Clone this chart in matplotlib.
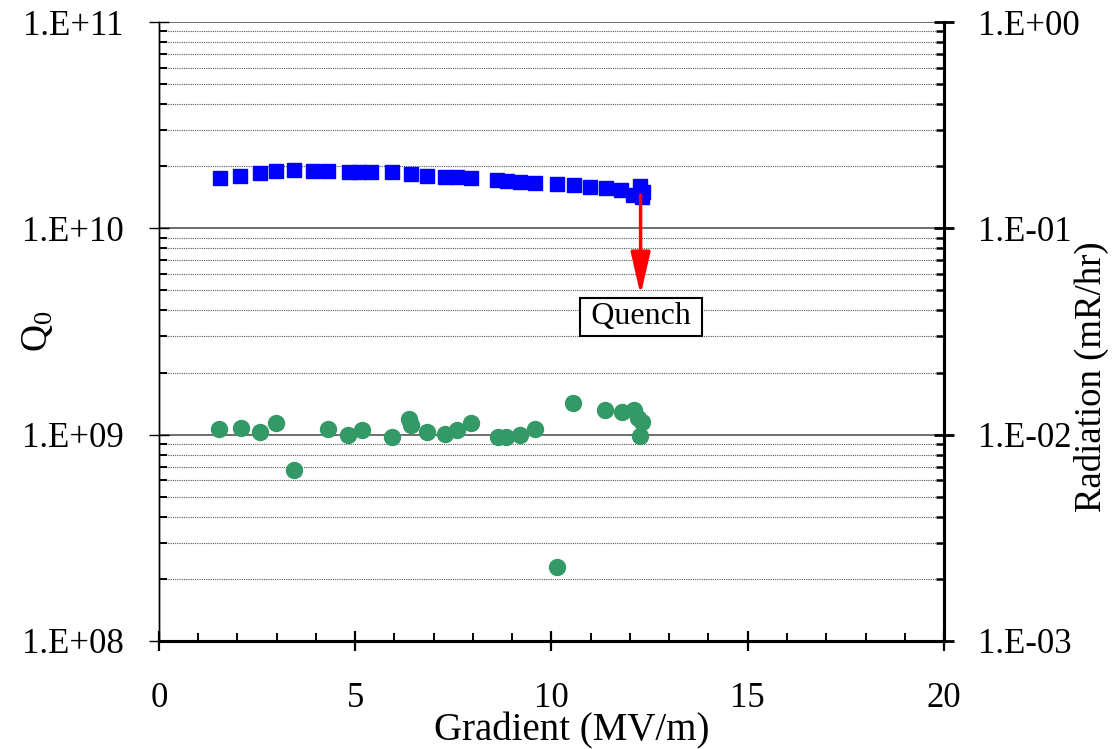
import numpy as np
import matplotlib
matplotlib.use('Agg')
import matplotlib.pyplot as plt
from matplotlib.ticker import LogLocator, MultipleLocator, FuncFormatter, NullFormatter

plt.rcParams['font.family'] = ['Liberation Serif', 'DejaVu Serif']
plt.rcParams['mathtext.fontset'] = 'custom'
plt.rcParams['mathtext.rm'] = 'Liberation Serif'
plt.rcParams['mathtext.it'] = 'Liberation Serif:italic'

## DATA
# Q0 vs gradient (blue squares, left axis)
q0_gradient = [1.55, 2.07, 2.58, 2.99, 3.45, 3.92, 4.31, 4.83, 5.1, 5.4,
               5.94, 6.42, 6.84, 7.29, 7.6, 7.94, 8.62, 8.86, 9.20, 9.57,
               10.15, 10.58, 10.97, 11.38, 11.78, 12.08, 12.25, 12.30, 12.34]
q0_values = [1.75e10, 1.80e10, 1.86e10, 1.90e10, 1.91e10, 1.90e10, 1.89e10, 1.88e10, 1.88e10, 1.88e10,
             1.88e10, 1.83e10, 1.80e10, 1.78e10, 1.77e10, 1.75e10, 1.71e10, 1.70e10, 1.68e10, 1.66e10,
             1.64e10, 1.62e10, 1.58e10, 1.56e10, 1.53e10, 1.45e10, 1.60e10, 1.42e10, 1.50e10]

# radiation vs gradient (green circles, right axis)
rad_gradient = [1.54, 2.08, 2.58, 2.98, 3.45, 4.31, 4.82, 5.17, 5.93, 6.37,
                6.42, 6.84, 7.28, 7.60, 7.94, 8.64, 8.84, 9.20, 9.58, 10.15,
                10.56, 11.37, 11.79, 12.09, 12.20, 12.30, 12.26]
rad_values = [0.01069, 0.01076, 0.01026, 0.01135, 0.00676, 0.0107, 0.00993, 0.01052, 0.00973, 0.01187,
              0.01110, 0.01033, 0.01007, 0.01052, 0.01135, 0.00977, 0.00970, 0.01000, 0.01061, 0.00229,
              0.01422, 0.01310, 0.01290, 0.01320, 0.01210, 0.01150, 0.00985]

quench_x = 12.27
quench_from = 1.45e10
quench_to = 4.75e9
quench_label_y = 3.72e9


def e_format(v, pos):
    exp = int(round(np.log10(v)))
    return '1.E%+03d' % exp


fig = plt.figure(figsize=(11.14, 7.49), dpi=100)
ax = fig.add_axes([0.1427, 0.1442, 0.7047, 0.8264])
ax2 = ax.twinx()

ax.set_xlim(0, 20)
ax.set_yscale('log')
ax.set_ylim(1e8, 1e11)
ax2.set_yscale('log')
ax2.set_ylim(1e-3, 1e0)

# grid: dotted minor lines, solid major lines
ax.yaxis.set_major_locator(LogLocator(base=10, numticks=10))
ax.yaxis.set_minor_locator(LogLocator(base=10, subs=np.arange(2, 10), numticks=20))
ax.yaxis.set_major_formatter(FuncFormatter(e_format))
ax.yaxis.set_minor_formatter(NullFormatter())
ax.grid(True, which='minor', axis='y', color='#555555', linestyle=(0, (1, 1)), linewidth=0.8)
ax.grid(True, which='major', axis='y', color='#555555', linestyle='-', linewidth=1.2)
ax.set_axisbelow(True)

ax2.yaxis.set_major_locator(LogLocator(base=10, numticks=10))
ax2.yaxis.set_minor_locator(LogLocator(base=10, subs=np.arange(2, 10), numticks=20))
ax2.yaxis.set_major_formatter(FuncFormatter(e_format))
ax2.yaxis.set_minor_formatter(NullFormatter())

ax.xaxis.set_major_locator(MultipleLocator(5))
ax.xaxis.set_minor_locator(MultipleLocator(1))

# ticks
ax.tick_params(axis='x', which='major', direction='inout', length=15, width=1.6,
               labelsize=25, pad=22)
ax.tick_params(axis='x', which='minor', direction='in', length=6, width=1.4)
ax.tick_params(axis='y', which='major', direction='inout', length=15, width=1.0,
               labelsize=25, pad=18)
ax.tick_params(axis='y', which='minor', direction='in', length=6, width=1.4)
ax2.tick_params(axis='y', which='major', direction='inout', length=15, width=2.0,
                labelsize=25, pad=17)
ax2.tick_params(axis='y', which='minor', direction='in', length=6, width=1.8)

for a in (ax, ax2):
    a.spines['top'].set_visible(False)
    a.spines['left'].set_linewidth(1.0)
    a.spines['bottom'].set_linewidth(2.2)
    a.spines['right'].set_linewidth(2.2)

# data
ax.plot(q0_gradient, q0_values, linestyle='none', marker='s', markersize=10.5,
        color='#0000ff', markeredgecolor='#0000ff', zorder=3)
ax2.plot(rad_gradient, rad_values, linestyle='none', marker='o', markersize=11.5,
         color='#339966', markeredgecolor='#339966', zorder=3)

# quench arrow and label
ax.annotate('', xy=(quench_x, quench_to), xytext=(quench_x, quench_from),
            arrowprops=dict(arrowstyle='-|>,head_length=1.3,head_width=0.3',
                            mutation_scale=20, color='#ff0000', lw=2.5,
                            shrinkA=0, shrinkB=0), zorder=4)
ax.text(quench_x + 0.02, quench_label_y, '\u2009Quench\u2009', ha='center', va='center', fontsize=23,
        bbox=dict(boxstyle='square,pad=0.15', facecolor='white', edgecolor='black', linewidth=1.5),
        zorder=5)

# labels
ax.set_xlabel('Gradient (MV/m)', fontsize=28)
ax.xaxis.set_label_coords(0.526, -0.116)
ax.set_ylabel(r'$\mathrm{Q}_\mathrm{0}$', fontsize=27)
ax.yaxis.set_label_coords(-0.133, 0.5)
ax2.set_ylabel('Radiation (mR/hr)', fontsize=26.5)
ax2.yaxis.set_label_coords(1.166, 0.4265)

fig.savefig('out.png', dpi=100)
